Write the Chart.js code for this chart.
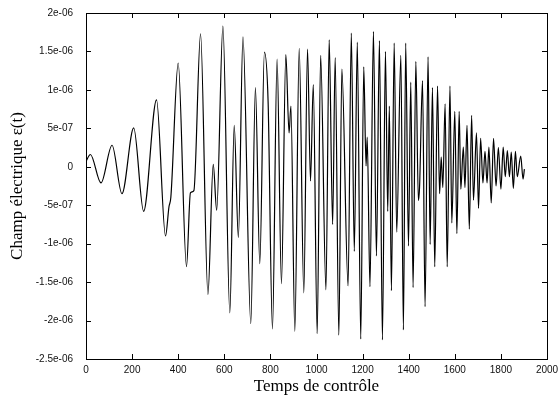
<!DOCTYPE html>
<html>
<head>
<meta charset="utf-8">
<script src="https://cdn.jsdelivr.net/npm/chart.js@4.4.1/dist/chart.umd.min.js"></script>
<style>
  html, body { margin: 0; padding: 0; background: #fff; }
  #wrap { width: 560px; height: 399px; }
</style>
</head>
<body>
<div id="wrap"><canvas id="fieldChart" width="560" height="399"></canvas></div>
<script>
// Control field (extrema and a few shoulders)
const controlTime = [
  0, 19, 65, 113, 156, 207, 250, 306, 345, 360, 368, 400, 436, 453, 468, 497,
  529, 552, 567, 594, 624, 643, 661, 681, 715, 735, 754, 774, 790, 809, 829, 848,
  867, 881, 889, 906, 925, 945, 961, 974, 986, 1003, 1018, 1041, 1055, 1070, 1081, 1097,
  1110, 1137, 1151, 1164, 1177, 1192, 1205, 1215, 1220, 1232, 1247, 1260, 1273, 1286,
  1299, 1309, 1316, 1325, 1337, 1348, 1366, 1377, 1387, 1399, 1409, 1419, 1431, 1442,
  1447, 1460, 1471, 1484, 1493, 1503, 1513, 1525, 1534, 1541, 1548, 1558, 1567, 1579,
  1587, 1600, 1609, 1619, 1626, 1637, 1644, 1653, 1663, 1673, 1681, 1694, 1703, 1712,
  1722, 1731, 1740, 1748, 1758, 1768, 1779, 1789, 1800, 1810, 1819, 1828, 1837, 1845,
  1854, 1863, 1871, 1886, 1896, 1902
];
const field = [
  0.7e-7, 1.6e-7, -2.1e-7, 2.8e-7, -3.5e-7, 5.05e-7, -5.8e-7, 8.7e-7, -9.0e-7, -5.2e-7, -4.0e-7, 1.35e-6, -1.30e-6, -3.4e-7, -3.1e-7, 1.73e-6,
  -1.66e-6, 0.3e-7, -5.65e-7, 1.83e-6, -1.90e-6, 5.4e-7, -9.2e-7, 1.69e-6, -2.04e-6, 1.03e-6, -1.26e-6, 1.49e-6, 8.5e-7, -2.11e-6, 1.40e-6, -1.52e-6,
  1.46e-6, 4.4e-7, 7.9e-7, -2.14e-6, 1.54e-6, -1.64e-6, 1.53e-6, -1.85e-7, 1.07e-6, -2.17e-6, 1.45e-6, -1.60e-6, 1.65e-6, -7.5e-7, 1.42e-6, -2.19e-6,
  1.27e-6, -1.55e-6, 1.74e-6, -1.10e-6, 1.62e-6, -2.24e-6, 1.30e-6, 0.1e-7, 3.85e-7, -1.56e-6, 1.76e-6, -1.16e-6, 1.64e-6, -2.25e-6,
  1.50e-6, -5.8e-7, 7.9e-7, -1.61e-6, 1.61e-6, -8.5e-7, 1.45e-6, -2.12e-6, 1.61e-6, -1.03e-6, 1.10e-6, -1.57e-6, 1.37e-6, -4.4e-7,
  -2.7e-7, 1.12e-6, -1.82e-6, 1.43e-6, -1.01e-6, 1.03e-6, -1.30e-6, 1.05e-6, -3.5e-7, 1.26e-7, -2.7e-7, 8.2e-7, -1.30e-6, 1.05e-6,
  -7.3e-7, 7.2e-7, -8.7e-7, 7.2e-7, -2.9e-7, 2.55e-7, -2.7e-7, 5.4e-7, -8.1e-7, 6.7e-7, -4.35e-7, 4.4e-7, -5.4e-7, 3.7e-7,
  -2.1e-7, 2.0e-7, -2.1e-7, 2.55e-7, -4.7e-7, 3.7e-7, -2.5e-7, 2.5e-7, -2.9e-7, 2.55e-7, -1.3e-7, 2.1e-7, -1.3e-7, 1.9e-7,
  -2.8e-7, 2.0e-7, -1.3e-7, 1.4e-7, -1.6e-7, -0.3e-7
];

const xTicks = [0, 200, 400, 600, 800, 1000, 1200, 1400, 1600, 1800, 2000];
const xTickLabels = ['0', '200', '400', '600', '800', '1000', '1200', '1400', '1600', '1800', '2000'];
const yTicks = [-2.5e-6, -2e-6, -1.5e-6, -1e-6, -5e-7, 0, 5e-7, 1e-6, 1.5e-6, 2e-6];
const yTickLabels = ['-2.5e-06', '-2e-06', '-1.5e-06', '-1e-06', '-5e-07', '0', '5e-07', '1e-06', '1.5e-06', '2e-06'];

// gnuplot style frame with inward ticks on all sides
const framePlugin = {
  id: 'frame',
  afterDraw(chart) {
    const { ctx, chartArea: a, scales } = chart;
    ctx.save();
    ctx.strokeStyle = '#000';
    ctx.lineWidth = 1;
    ctx.strokeRect(a.left + 0.5, a.top + 0.5, a.right - a.left, a.bottom - a.top);
    ctx.beginPath();
    xTicks.forEach(v => {
      const x = Math.round(scales.x.getPixelForValue(v)) + 0.5;
      ctx.moveTo(x, a.bottom); ctx.lineTo(x, a.bottom - 5);
      ctx.moveTo(x, a.top); ctx.lineTo(x, a.top + 5);
    });
    yTicks.forEach(v => {
      const y = Math.round(scales.y.getPixelForValue(v)) + 0.5;
      ctx.moveTo(a.left, y); ctx.lineTo(a.left + 5, y);
      ctx.moveTo(a.right, y); ctx.lineTo(a.right - 5, y);
    });
    ctx.stroke();
    ctx.restore();
  }
};

const ctx = document.getElementById('fieldChart').getContext('2d');
const fieldChart = new Chart(ctx, {
  type: 'line',
  data: {
    datasets: [{
      data: controlTime.map((t, i) => ({ x: t, y: field[i] })),
      borderColor: '#000',
      borderWidth: 1.2,
      pointRadius: 0,
      fill: false,
      cubicInterpolationMode: 'monotone'
    }]
  },
  options: {
    responsive: false,
    animation: false,
    devicePixelRatio: 1,
    layout: { padding: { top: 13, right: 13, left: 0, bottom: 0 } },
    plugins: { legend: { display: false }, tooltip: { enabled: false } },
    scales: {
      x: {
        type: 'linear',
        min: 0,
        max: 2000,
        afterBuildTicks: s => { s.ticks = xTicks.map(v => ({ value: v })); },
        afterFit: s => { s.height = 40; s.paddingLeft = 0; s.paddingRight = 0; },
        grid: { display: false, drawTicks: false },
        border: { display: false },
        ticks: {
          padding: 5,
          color: '#111',
          font: { family: 'Liberation Sans', size: 10 },
          maxRotation: 0,
          callback: (v, i) => xTickLabels[i]
        },
        title: {
          display: true,
          text: 'Temps de contrôle',
          color: '#000',
          font: { family: 'Liberation Serif', size: 17 },
          padding: { top: 0, bottom: 2 }
        }
      },
      y: {
        type: 'linear',
        min: -2.5e-6,
        max: 2e-6,
        afterBuildTicks: s => { s.ticks = yTicks.map(v => ({ value: v })); },
        afterFit: s => { s.width = 86; s.paddingTop = 0; s.paddingBottom = 0; },
        grid: { display: false, drawTicks: false },
        border: { display: false },
        ticks: {
          padding: 13,
          color: '#111',
          font: { family: 'Liberation Sans', size: 10 },
          callback: (v, i) => yTickLabels[i]
        },
        title: {
          display: true,
          text: 'Champ électrique ε(t)',
          color: '#000',
          font: { family: 'Liberation Serif', size: 17 },
          padding: { top: 7, bottom: 0 }
        }
      }
    }
  },
  plugins: [framePlugin]
});
</script>
</body>
</html>
